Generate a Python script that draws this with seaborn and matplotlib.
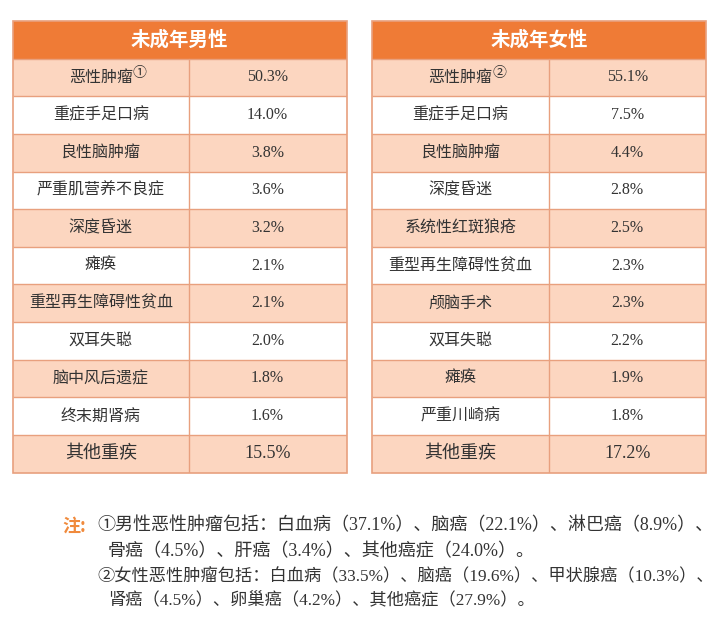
import numpy as np
import pandas as pd
import matplotlib
matplotlib.use("Agg")
import matplotlib.pyplot as plt
import seaborn as sns
from matplotlib.colors import ListedColormap
from matplotlib.patches import Rectangle

# ---------------- data ----------------
male_title = "未成年男性"
male_diseases = ["恶性肿瘤", "重症手足口病", "良性脑肿瘤", "严重肌营养不良症", "深度昏迷",
                 "瘫痪", "重型再生障碍性贫血", "双耳失聪", "脑中风后遗症", "终末期肾病", "其他重疾"]
male_shares = [50.3, 14.0, 3.8, 3.6, 3.2, 2.1, 2.1, 2.0, 1.8, 1.6, 15.5]

female_title = "未成年女性"
female_diseases = ["恶性肿瘤", "重症手足口病", "良性脑肿瘤", "深度昏迷", "系统性红斑狼疮",
                   "重型再生障碍性贫血", "颅脑手术", "双耳失聪", "瘫痪", "严重川崎病", "其他重疾"]
female_shares = [55.1, 7.5, 4.4, 2.8, 2.5, 2.3, 2.3, 2.2, 1.9, 1.8, 17.2]

note_marks = ["①", "②"]
male_cancer_types = ["白血病", "脑癌", "淋巴癌", "骨癌", "肝癌", "其他癌症"]
male_cancer_shares = [37.1, 22.1, 8.9, 4.5, 3.4, 24.0]
female_cancer_types = ["白血病", "脑癌", "甲状腺癌", "肾癌", "卵巢癌", "其他癌症"]
female_cancer_shares = [33.5, 19.6, 10.3, 4.5, 4.2, 27.9]

# ---------------- style ----------------
sns.set_theme(style="white")
plt.rcParams["font.family"] = ["Liberation Serif", "Noto Sans CJK SC", "DejaVu Sans"]

ORANGE = "#EF7B36"
PEACH = "#FCD6C0"
LINE = "#E8A07E"
TEXT = "#333333"
CJK = ["Noto Sans CJK SC", "DejaVu Sans"]
MIXED = ["Liberation Serif", "Noto Sans CJK SC", "DejaVu Sans"]

W, H = 724, 622
fig = plt.figure(figsize=(W / 100, H / 100), dpi=100)
fig.patch.set_facecolor("white")

TOP, BOTTOM = 21, 472.5


def draw_table(x0, x1, split, title, diseases, shares, mark):
    ax = fig.add_axes([x0 / W, 1 - BOTTOM / H, (x1 - x0) / W, (BOTTOM - TOP) / H])
    n = len(diseases)
    fill = pd.DataFrame({"fill": [2] + [1 if i % 2 == 0 else 0 for i in range(n)]})
    sns.heatmap(fill, ax=ax, cmap=ListedColormap(["white", PEACH, ORANGE]),
                vmin=-0.5, vmax=2.5, cbar=False, xticklabels=False, yticklabels=False)
    # grid lines
    for i in range(1, n + 1):
        ax.plot([0, 1], [i, i], color=LINE, lw=1.0, solid_capstyle="butt")
    ax.plot([split, split], [1, n + 1], color=LINE, lw=1.0)
    ax.add_patch(Rectangle((0, 0), 1, n + 1, fill=False, edgecolor=LINE, lw=1.2, clip_on=False))
    # header
    ax.text(0.5, 0.5, title, ha="center", va="center", color="white",
            fontsize=14, fontweight="bold", family=CJK)
    for i, (name, val) in enumerate(zip(diseases, shares)):
        y = i + 1.5
        big = (i == n - 1)
        fs = 13 if big else 11.5
        t = ax.text(split / 2, y, name, ha="center", va="center", color=TEXT,
                    fontsize=fs, family=CJK)
        if i == 0:
            ax.annotate(mark, xy=(1.0, 0.75), xycoords=t, ha="left", va="center",
                        fontsize=10, color=TEXT, family=MIXED)
        ax.text((split + 1) / 2, y, f"{val:.1f}%", ha="center", va="center",
                color=TEXT, fontsize=fs, family=MIXED)
    ax.set_xlim(0, 1)
    ax.set_ylim(n + 1, 0)
    ax.axis("off")


draw_table(13, 346.5, 0.527, male_title, male_diseases, male_shares, note_marks[0])
draw_table(372.5, 706, 0.528, female_title, female_diseases, female_shares, note_marks[1])


def items(types, shares):
    return [f"{t}（{s:.1f}%）" for t, s in zip(types, shares)]


m = items(male_cancer_types, male_cancer_shares)
f = items(female_cancer_types, female_cancer_shares)
lines = [
    (97, 526, 13, note_marks[0] + "男性恶性肿瘤包括：" + "、".join(m[:3]) + "、"),
    (108, 552, 13, "、".join(m[3:]) + "。"),
    (97, 577, 12.4, note_marks[1] + "女性恶性肿瘤包括：" + "、".join(f[:3]) + "、"),
    (108, 601, 12.4, "、".join(f[3:]) + "。"),
]
fig.text(62 / W, 1 - 526 / H, "注:", ha="left", va="center", color="#F08A3C",
         fontsize=13, fontweight="bold", family=CJK)
for x, y, fs, s in lines:
    fig.text(x / W, 1 - y / H, s, ha="left", va="center", color=TEXT,
             fontsize=fs, family=MIXED)

fig.savefig("out.png", dpi=100, facecolor="white")
